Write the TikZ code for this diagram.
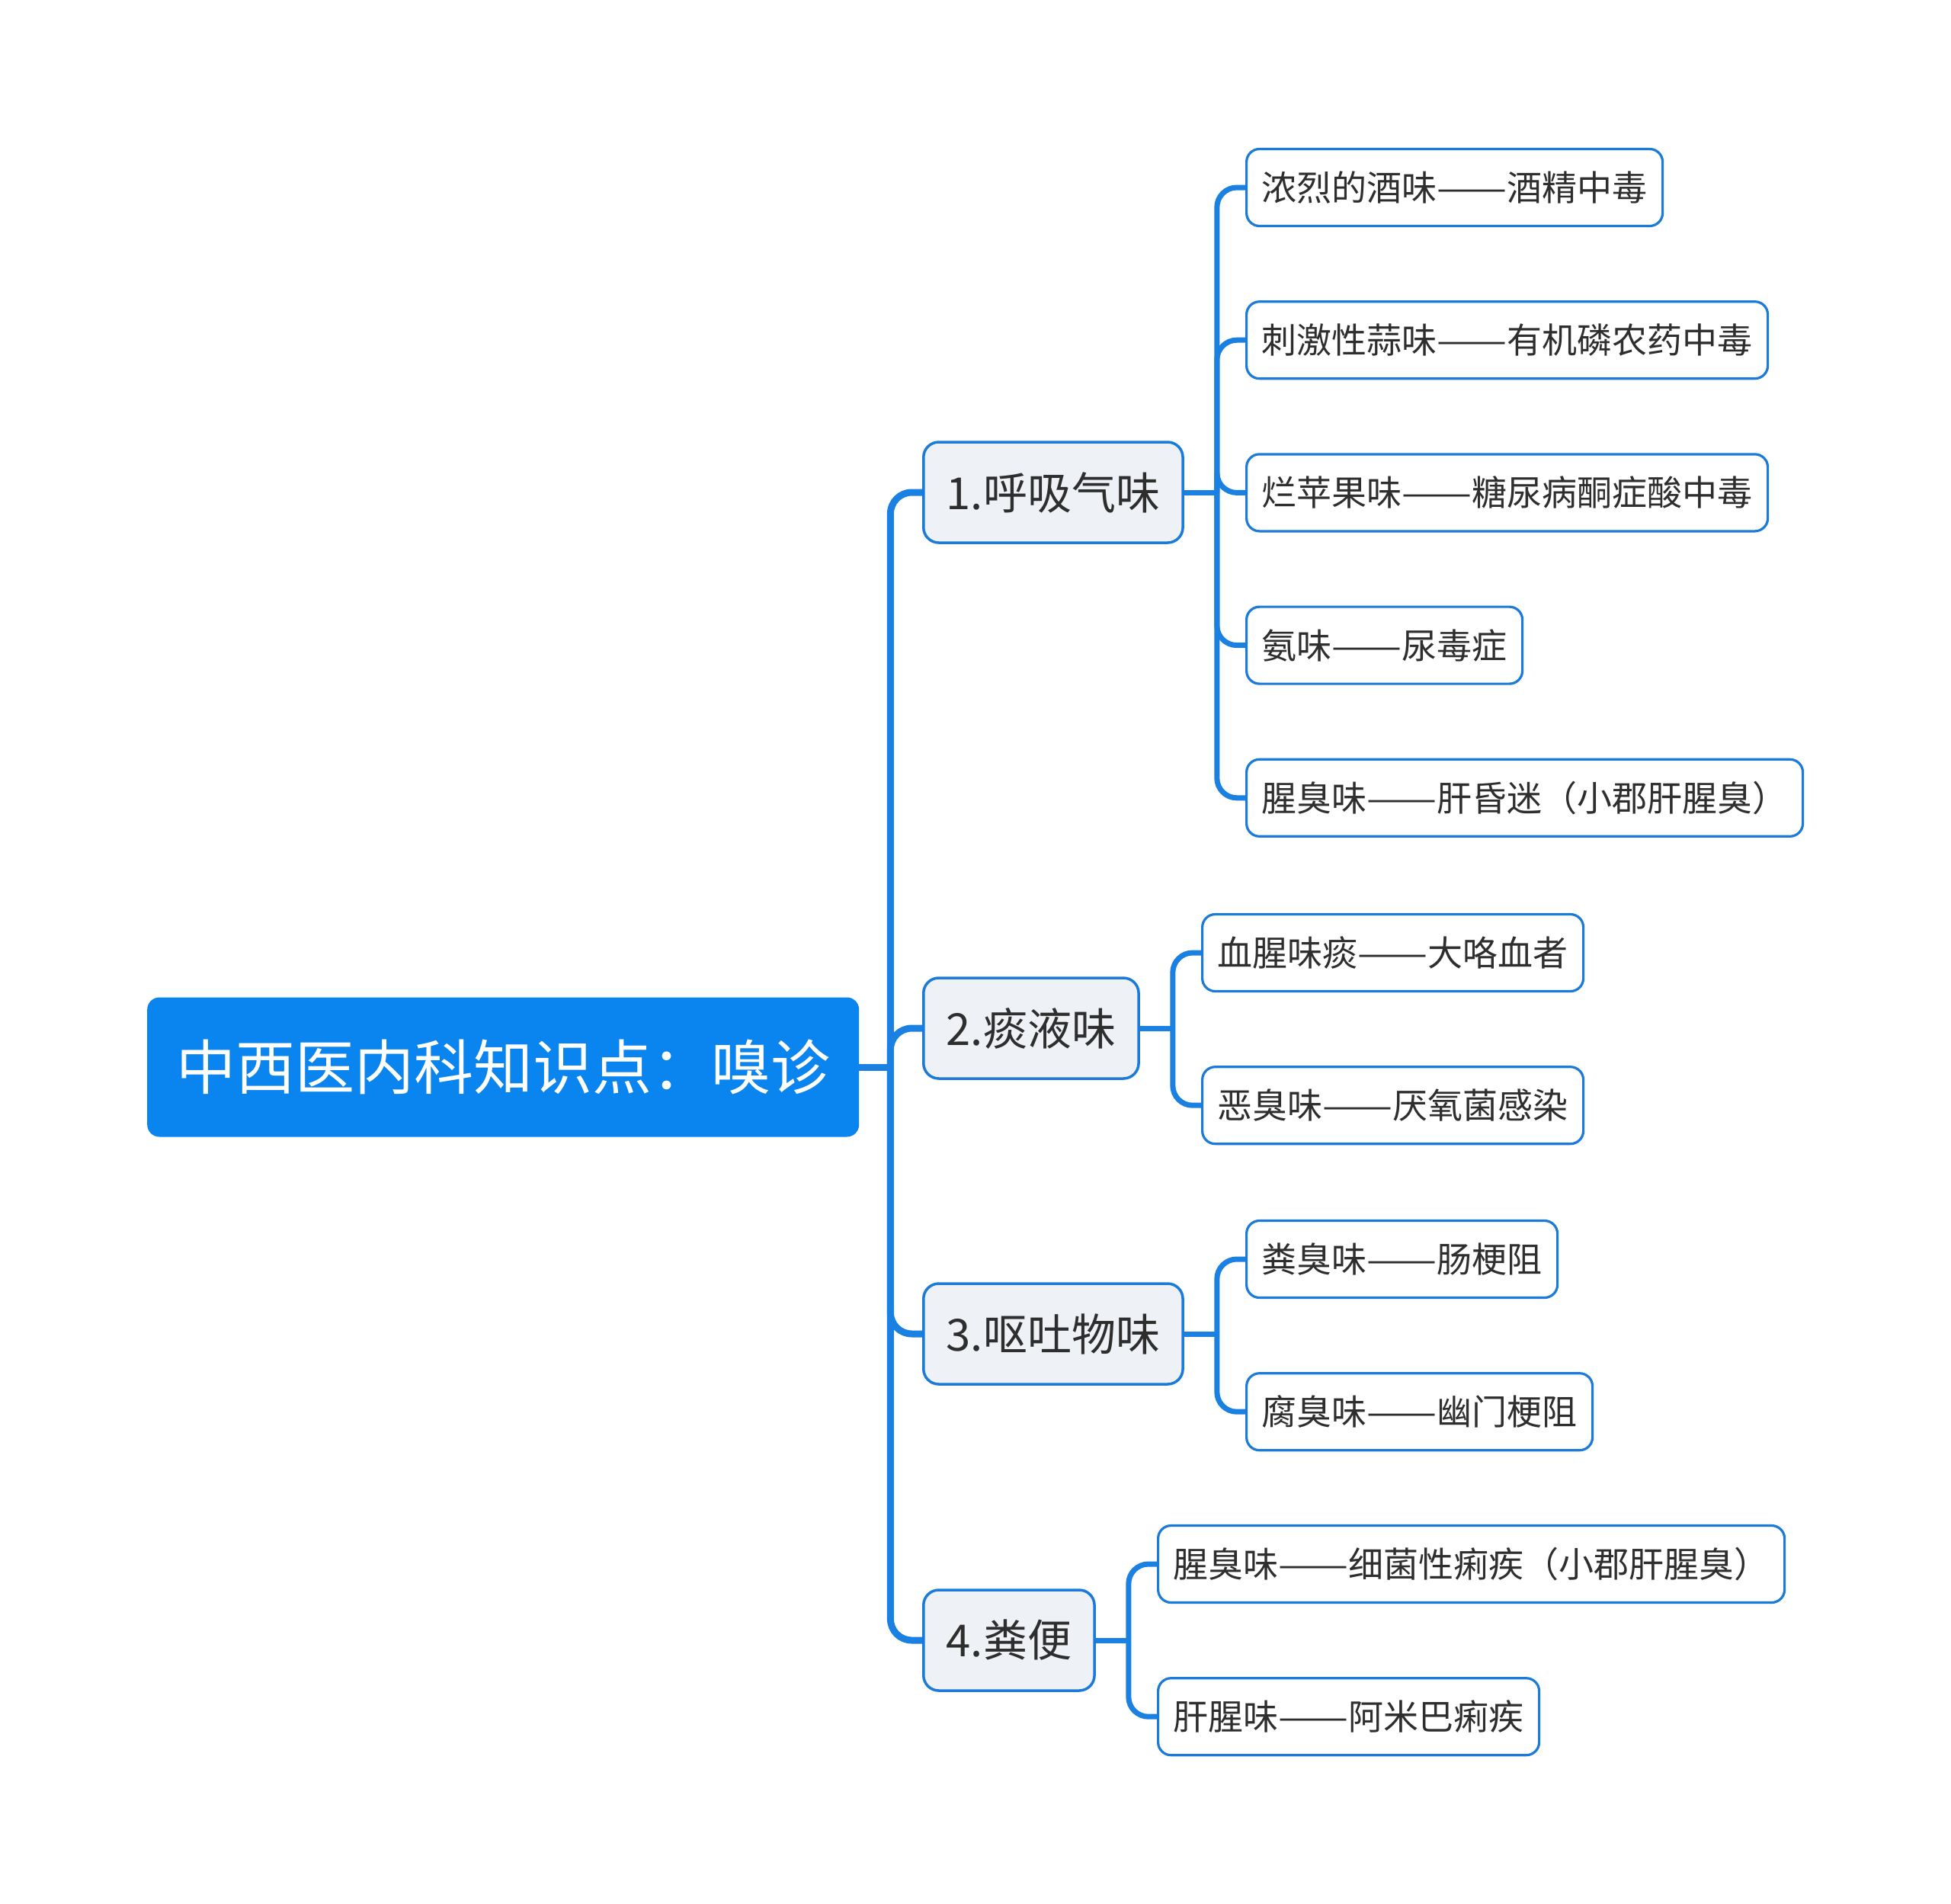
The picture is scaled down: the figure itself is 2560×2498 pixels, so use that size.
\documentclass[tikz,border=0pt]{standalone}
\usepackage{fontspec}
\setmainfont{Noto Sans CJK SC}
\usepackage{xcolor}
\usetikzlibrary{positioning,calc}

\definecolor{mapblue}{HTML}{0A84EE}
\definecolor{lineblue}{HTML}{1A80E2}
\definecolor{edgeblue}{HTML}{1C7AD8}
\definecolor{topicbg}{HTML}{EEF2F6}
\definecolor{inkgray}{HTML}{2E2E2E}

% long dash between the two halves of a leaf
\newcommand{\dd}{\resizebox{2em}{\height}{——}}

\begin{document}
\begin{tikzpicture}[
  x=1pt, y=-1pt,
  main/.style={fill=mapblue, rounded corners=16pt, minimum height=183pt,
               inner xsep=38pt, anchor=west, text=white,
               font=\fontsize{78}{90}\selectfont},
  sub/.style={draw=edgeblue, line width=3.5pt, fill=topicbg, rounded corners=20pt,
              minimum height=132pt, inner xsep=30pt, anchor=west, text=inkgray,
              font=\fontsize{58}{68}\selectfont},
  leaf/.style={draw=edgeblue, line width=3.2pt, fill=white, rounded corners=17pt,
               minimum height=101pt, inner xsep=20pt, text=inkgray,
               font=\fontsize{46}{54}\selectfont},
  ln/.style={draw=lineblue, line width=9pt},
  lnb/.style={draw=lineblue, line width=7pt}
]
  \useasboundingbox (0,0) rectangle (2560,2498);

  % root and main topics
  \node[main] (root) at (193,1400) {中西医内科知识点：嗅诊};
  \node[sub] (a) at (1210,646) {1.呼吸气味};
  \node[sub] (b) at (1210,1349) {2.痰液味};
  \node[sub] (c) at (1210,1750) {3.呕吐物味};
  \node[sub] (d) at (1210,2152) {4.粪便};

  % 1
  \node[leaf, anchor=west] (a1) at (1634,246) {浓烈的酒味\dd 酒精中毒};
  \node[leaf, below right=96pt and 0pt of a1.south west] (a2) {刺激性蒜味\dd 有机磷农药中毒};
  \node[leaf, below right=96pt and 0pt of a2.south west] (a3) {烂苹果味\dd 糖尿病酮症酸中毒};
  \node[leaf, below right=96pt and 0pt of a3.south west] (a4) {氨味\dd 尿毒症};
  \node[leaf, below right=96pt and 0pt of a4.south west] (a5) {腥臭味\dd 肝昏迷（小郡肝腥臭）};
  % 2
  \node[leaf, anchor=west] (b1) at (1576,1250) {血腥味痰\dd 大咯血者};
  \node[leaf, below right=96pt and 0pt of b1.south west] (b2) {恶臭味\dd 厌氧菌感染};
  % 3
  \node[leaf, anchor=west] (c1) at (1634,1652) {粪臭味\dd 肠梗阻};
  \node[leaf, below right=96pt and 0pt of c1.south west] (c2) {腐臭味\dd 幽门梗阻};
  % 4
  \node[leaf, anchor=west] (d1) at (1518,2052) {腥臭味\dd 细菌性痢疾（小郡肝腥臭）};
  \node[leaf, below right=96pt and 0pt of d1.south west] (d2) {肝腥味\dd 阿米巴痢疾};

  % connectors
  \coordinate (j0) at ($(root.east)+(41,0)$);
  \draw[ln] (root.east) -- (j0);
  \foreach \n in {a,b,c,d}
    \draw[ln, rounded corners=28pt] (j0) |- (\n.west);

  \coordinate (ja) at ($(a.east)+(43,0)$);
  \coordinate (jb) at ($(b.east)+(43,0)$);
  \coordinate (jc) at ($(c.east)+(43,0)$);
  \coordinate (jd) at ($(d.east)+(43,0)$);
  \draw[lnb] (a.east) -- (ja);
  \draw[lnb] (b.east) -- (jb);
  \draw[lnb] (c.east) -- (jc);
  \draw[lnb] (d.east) -- (jd);
  \foreach \k in {a1,a2,a3,a4,a5}
    \draw[lnb, rounded corners=26pt] (ja) |- (\k.west);
  \foreach \k in {b1,b2}
    \draw[lnb, rounded corners=26pt] (jb) |- (\k.west);
  \foreach \k in {c1,c2}
    \draw[lnb, rounded corners=26pt] (jc) |- (\k.west);
  \foreach \k in {d1,d2}
    \draw[lnb, rounded corners=26pt] (jd) |- (\k.west);
\end{tikzpicture}
\end{document}
